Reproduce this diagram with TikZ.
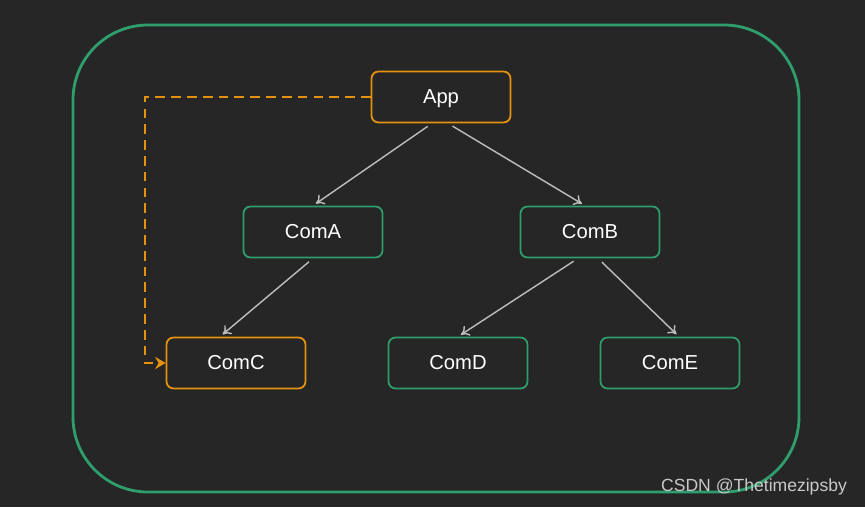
\documentclass[tikz,border=0pt]{standalone}
\usepackage{fontspec}
\setmainfont{Liberation Sans}
\usetikzlibrary{arrows.meta, calc, backgrounds}

\definecolor{bgdark}{RGB}{38,38,38}
\definecolor{framegreen}{RGB}{46,158,108}
\definecolor{apporange}{RGB}{230,146,14}
\definecolor{linkgray}{RGB}{190,190,190}

\begin{document}
\begin{tikzpicture}[x=0.02cm, y=-0.02cm,
    comp/.style={draw=framegreen, line width=1pt, rounded corners=4pt, minimum width=2.78cm, minimum height=1.02cm, text=white, text depth=0.15ex, font=\fontsize{11.5}{13}\selectfont},
    hot/.style={comp, draw=apporange},
    link/.style={-{To[length=4.5pt, width=6.5pt]}, draw=linkgray, line width=0.8pt, shorten <=3pt, shorten >=2pt}]
             % background and frame
             \fill[bgdark] (0,0) rectangle (865,507);
             \draw[framegreen, line width=1.6pt, rounded corners=1.5cm] (73,25) rectangle (799,492);
             % components
             \node[hot] (App) at (441,97) {App};
             \node[comp] (ComA) at (313,232) {ComA};
             \node[comp] (ComB) at (590,232) {ComB};
             \node[hot] (ComC) at (236,363) {ComC};
             \node[comp] (ComD) at (458,363) {ComD};
             \node[comp] (ComE) at (670,363) {ComE};
             % tree links
             \draw[link] ([xshift=-0.18cm]App.south) -- (ComA.north);
             \draw[link] ([xshift=0.14cm]App.south) -- ([xshift=-0.1cm]ComB.north);
             \draw[link] (ComA.south) -- ([xshift=-0.32cm]ComC.north);
             \draw[link] ([xshift=-0.24cm]ComB.south) -- (ComD.north);
             \draw[link] ([xshift=0.16cm]ComB.south) -- ([xshift=0.18cm]ComE.north);
             % direct path App -> ComC
             \draw[apporange, line width=1.7pt, dash pattern=on 5.5pt off 3.5pt, -{Stealth[length=6pt, width=7pt, inset=2pt]}]
                 (App.west) -| (145,363) -- (ComC.west);
             % watermark
             \node[text=white!75!bgdark, font=\fontsize{10}{12}\selectfont] (mark) at (754,487) {CSDN @Thetimezipsby};
\end{tikzpicture}
\end{document}
